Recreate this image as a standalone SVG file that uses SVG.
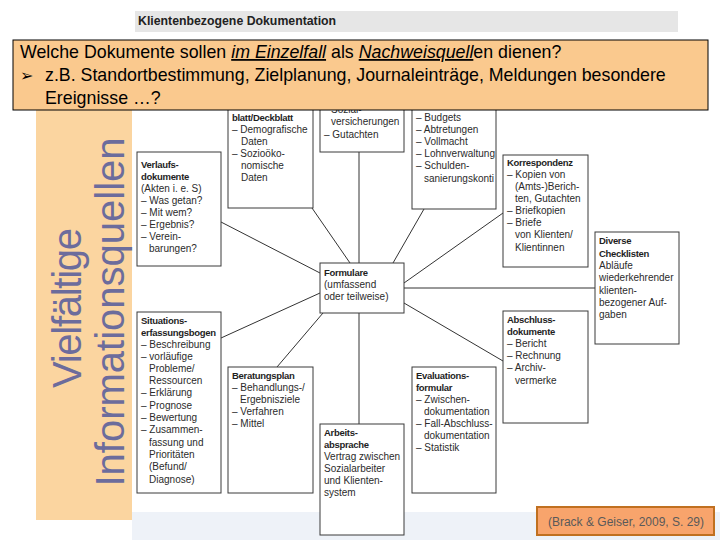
<svg xmlns="http://www.w3.org/2000/svg" width="720" height="540" viewBox="0 0 720 540">
<style>
.box{fill:#fff;stroke:#3a3a3a;stroke-width:1}
.t{font-family:"Liberation Sans",Arial,sans-serif;font-size:10px;fill:#2b2b2b}
.b{font-weight:bold;font-size:9.5px;letter-spacing:-0.3px;fill:#1e1e1e}
.con line{stroke:#333;stroke-width:1}
.q{font-family:"Liberation Sans",Arial,sans-serif;font-size:17.8px;fill:#000}
.side{font-family:"Liberation Sans",Arial,sans-serif;font-size:40px;fill:#6c6c9c}
</style>
<rect width="720" height="540" fill="#fff"/>
<rect x="132" y="512" width="588" height="28" fill="#eef2f8"/>
<g id="header">
<rect x="135" y="11" width="543" height="21" fill="#e6e6e6"/>
<text x="138" y="25" font-family="'Liberation Sans',Arial,sans-serif" font-size="12.3" font-weight="bold" fill="#222">Klientenbezogene Dokumentation</text>
</g>
<g id="side-panel">
<rect x="36" y="110" width="96" height="410" fill="#fbd5a0"/>
<text class="side" transform="translate(81,308) rotate(-90)" text-anchor="middle" textLength="160">Vielfältige</text>
<text class="side" transform="translate(124,312) rotate(-90)" text-anchor="middle">Informationsquellen</text>
</g>
<g class="con" id="connectors">
<line x1="312" y1="208" x2="350" y2="263"/>
<line x1="359" y1="152" x2="359" y2="263"/>
<line x1="424" y1="209" x2="393" y2="263"/>
<line x1="221" y1="222" x2="320" y2="273"/>
<line x1="503" y1="213" x2="404" y2="283"/>
<line x1="404" y1="288" x2="595" y2="288"/>
<line x1="404" y1="303" x2="503" y2="361"/>
<line x1="221" y1="338" x2="320" y2="293"/>
<line x1="277" y1="367" x2="323" y2="313"/>
<line x1="359" y1="313" x2="359" y2="424"/>
</g>
<g id="deckblatt">
<rect class="box" x="228" y="100" width="85" height="108"/>
<text class="t" x="232"><tspan class="b" y="121">blatt/Deckblatt</tspan><tspan x="232" y="133">– Demografische</tspan><tspan x="241" y="145">Daten</tspan><tspan x="232" y="157">– Sozioöko-</tspan><tspan x="241" y="169">nomische</tspan><tspan x="241" y="181">Daten</tspan></text>
</g>
<g id="sozialversicherungen">
<rect class="box" x="320" y="100" width="84" height="52"/>
<text class="t" x="331"><tspan y="113">Sozial-</tspan><tspan x="331" y="125">versicherungen</tspan><tspan x="324" y="138">– Gutachten</tspan></text>
</g>
<g id="budgets">
<rect class="box" x="412" y="100" width="84" height="109"/>
<text class="t" x="416"><tspan y="121">– Budgets</tspan><tspan x="416" y="133">– Abtretungen</tspan><tspan x="416" y="145">– Vollmacht</tspan><tspan x="416" y="157">– Lohnverwaltung</tspan><tspan x="416" y="169">– Schulden-</tspan><tspan x="424" y="182">sanierungskonti</tspan></text>
</g>
<g id="verlauf">
<rect class="box" x="137" y="152" width="84" height="114"/>
<text class="t" x="141"><tspan class="b" y="168">Verlaufs-</tspan><tspan class="b" x="141" y="180">dokumente</tspan><tspan x="141" y="192">(Akten i. e. S)</tspan><tspan x="141" y="204">– Was getan?</tspan><tspan x="141" y="216">– Mit wem?</tspan><tspan x="141" y="228">– Ergebnis?</tspan><tspan x="141" y="240">– Verein-</tspan><tspan x="149" y="252">barungen?</tspan></text>
</g>
<g id="korrespondenz">
<rect class="box" x="503" y="155" width="85" height="112"/>
<text class="t" x="507"><tspan class="b" y="166">Korrespondenz</tspan><tspan x="507" y="178">– Kopien von</tspan><tspan x="515" y="190">(Amts-)Berich-</tspan><tspan x="515" y="202">ten, Gutachten</tspan><tspan x="507" y="214">– Briefkopien</tspan><tspan x="507" y="226">– Briefe</tspan><tspan x="515" y="238">von Klienten/</tspan><tspan x="515" y="251">Klientinnen</tspan></text>
</g>
<g id="checklisten">
<rect class="box" x="595" y="232" width="84" height="112"/>
<text class="t" x="599"><tspan class="b" y="244">Diverse</tspan><tspan class="b" x="599" y="257">Checklisten</tspan><tspan x="599" y="269">Abläufe</tspan><tspan x="599" y="281">wiederkehrender</tspan><tspan x="599" y="294">klienten-</tspan><tspan x="599" y="306">bezogener Auf-</tspan><tspan x="599" y="318">gaben</tspan></text>
</g>
<g id="formulare">
<rect class="box" x="320" y="263" width="84" height="50"/>
<text class="t" x="324"><tspan class="b" y="276">Formulare</tspan><tspan x="324" y="288">(umfassend</tspan><tspan x="324" y="300">oder teilweise)</tspan></text>
</g>
<g id="situation">
<rect class="box" x="137" y="312" width="84" height="181"/>
<text class="t" x="141"><tspan class="b" y="324">Situations-</tspan><tspan class="b" x="141" y="336">erfassungsbogen</tspan><tspan x="141" y="348">– Beschreibung</tspan><tspan x="141" y="360">– vorläufige</tspan><tspan x="149" y="372">Probleme/</tspan><tspan x="149" y="384">Ressourcen</tspan><tspan x="141" y="396">– Erklärung</tspan><tspan x="141" y="409">– Prognose</tspan><tspan x="141" y="421">– Bewertung</tspan><tspan x="141" y="433">– Zusammen-</tspan><tspan x="149" y="446">fassung und</tspan><tspan x="149" y="458">Prioritäten</tspan><tspan x="149" y="470">(Befund/</tspan><tspan x="149" y="483">Diagnose)</tspan></text>
</g>
<g id="beratungsplan">
<rect class="box" x="228" y="367" width="85" height="126"/>
<text class="t" x="232"><tspan class="b" y="379">Beratungsplan</tspan><tspan x="232" y="391">– Behandlungs-/</tspan><tspan x="240" y="403">Ergebnisziele</tspan><tspan x="232" y="415">– Verfahren</tspan><tspan x="232" y="427">– Mittel</tspan></text>
</g>
<g id="arbeitsabsprache">
<rect class="box" x="320" y="424" width="84" height="111"/>
<text class="t" x="324"><tspan class="b" y="436">Arbeits-</tspan><tspan class="b" x="324" y="448">absprache</tspan><tspan x="324" y="460">Vertrag zwischen</tspan><tspan x="324" y="472">Sozialarbeiter</tspan><tspan x="324" y="484">und Klienten-</tspan><tspan x="324" y="496">system</tspan></text>
</g>
<g id="evaluation">
<rect class="box" x="412" y="367" width="84" height="126"/>
<text class="t" x="416"><tspan class="b" y="379">Evaluations-</tspan><tspan class="b" x="416" y="391">formular</tspan><tspan x="416" y="403">– Zwischen-</tspan><tspan x="424" y="415">dokumentation</tspan><tspan x="416" y="427">– Fall-Abschluss-</tspan><tspan x="424" y="439">dokumentation</tspan><tspan x="416" y="451">– Statistik</tspan></text>
</g>
<g id="abschluss">
<rect class="box" x="503" y="311" width="85" height="112"/>
<text class="t" x="507"><tspan class="b" y="323">Abschluss-</tspan><tspan class="b" x="507" y="335">dokumente</tspan><tspan x="507" y="347">– Bericht</tspan><tspan x="507" y="359">– Rechnung</tspan><tspan x="507" y="371">– Archiv-</tspan><tspan x="515" y="384">vermerke</tspan></text>
</g>
<g id="question">
<rect x="13" y="40" width="695" height="70" fill="#fac98e" stroke="#000" stroke-width="1"/>
<text class="q" x="20" y="58">Welche Dokumente sollen <tspan font-style="italic" text-decoration="underline">im Einzelfall</tspan> als <tspan font-style="italic" text-decoration="underline">Nachweisquell</tspan>en dienen?</text>
<text class="q" x="20" y="81"><tspan font-family="'DejaVu Sans',sans-serif" font-size="16">➢</tspan><tspan x="45">z.B. Standortbestimmung, Zielplanung, Journaleinträge, Meldungen besondere</tspan></text>
<text class="q" x="45" y="104">Ereignisse …?</text>
</g>
<g id="citation">
<rect x="537" y="507" width="177" height="28" fill="#f8a46c" stroke="#c07020" stroke-width="2"/>
<text x="626" y="526" text-anchor="middle" font-family="'Liberation Sans',Arial,sans-serif" font-size="12" fill="#5a5a5a">(Brack &amp; Geiser, 2009, S. 29)</text>
</g>
</svg>
